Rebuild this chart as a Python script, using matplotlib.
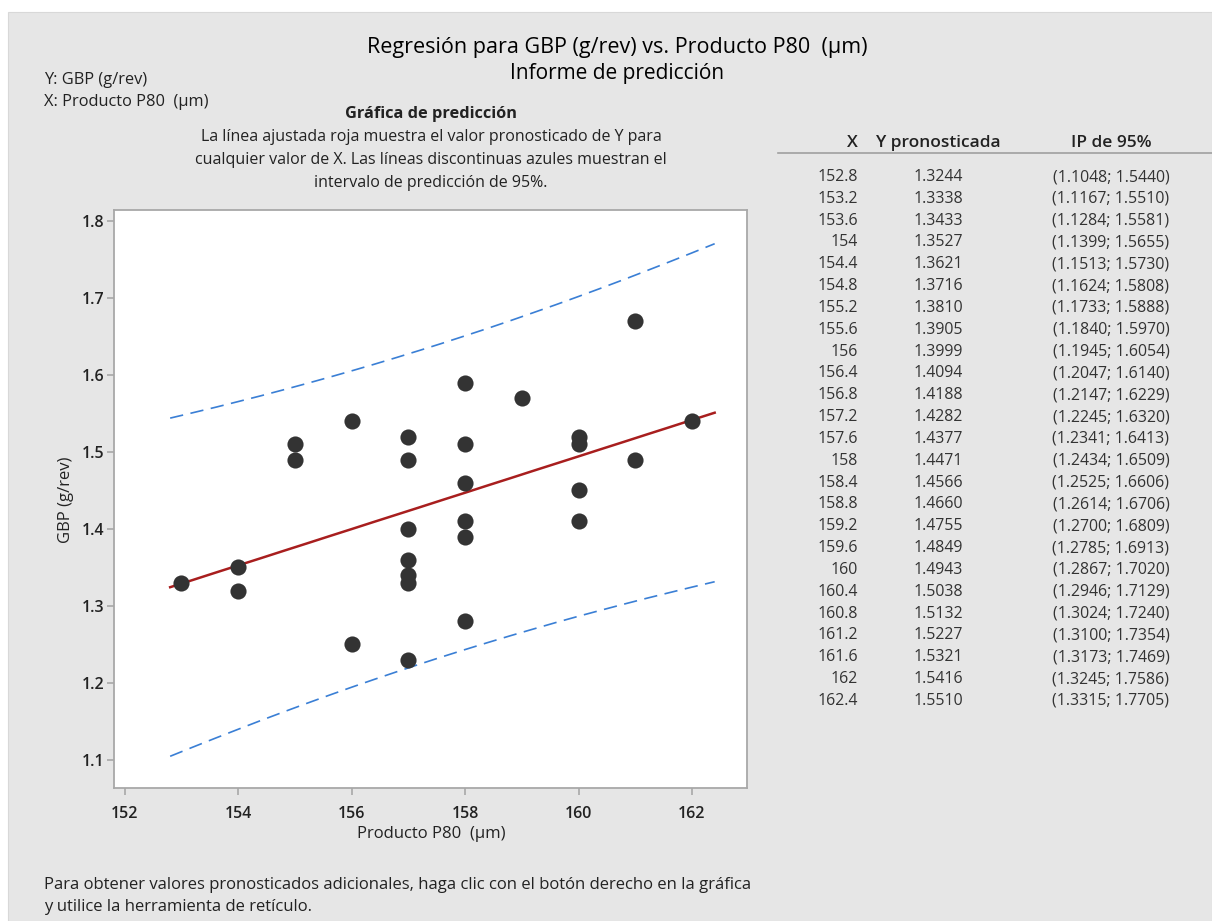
import matplotlib
matplotlib.use("Agg")
import matplotlib.pyplot as plt
from matplotlib.patches import Rectangle
from matplotlib.lines import Line2D

# ---------------- data ----------------
obs_x = [153, 154, 154, 155, 155, 156, 156,
         157, 157, 157, 157, 157, 157, 157,
         158, 158, 158, 158, 158, 158,
         159, 160, 160, 160, 160, 161, 161, 162]
obs_y = [1.33, 1.35, 1.32, 1.51, 1.49, 1.54, 1.25,
         1.52, 1.49, 1.40, 1.36, 1.34, 1.33, 1.23,
         1.59, 1.51, 1.46, 1.41, 1.39, 1.28,
         1.57, 1.52, 1.51, 1.45, 1.41, 1.67, 1.49, 1.54]

pred_x = [152.8, 153.2, 153.6, 154, 154.4, 154.8, 155.2, 155.6, 156, 156.4,
          156.8, 157.2, 157.6, 158, 158.4, 158.8, 159.2, 159.6, 160, 160.4,
          160.8, 161.2, 161.6, 162, 162.4]
pred_y = [1.3244, 1.3338, 1.3433, 1.3527, 1.3621, 1.3716, 1.3810, 1.3905, 1.3999, 1.4094,
          1.4188, 1.4282, 1.4377, 1.4471, 1.4566, 1.4660, 1.4755, 1.4849, 1.4943, 1.5038,
          1.5132, 1.5227, 1.5321, 1.5416, 1.5510]
pi_low = [1.1048, 1.1167, 1.1284, 1.1399, 1.1513, 1.1624, 1.1733, 1.1840, 1.1945, 1.2047,
          1.2147, 1.2245, 1.2341, 1.2434, 1.2525, 1.2614, 1.2700, 1.2785, 1.2867, 1.2946,
          1.3024, 1.3100, 1.3173, 1.3245, 1.3315]
pi_high = [1.5440, 1.5510, 1.5581, 1.5655, 1.5730, 1.5808, 1.5888, 1.5970, 1.6054, 1.6140,
           1.6229, 1.6320, 1.6413, 1.6509, 1.6606, 1.6706, 1.6809, 1.6913, 1.7020, 1.7129,
           1.7240, 1.7354, 1.7469, 1.7586, 1.7705]

x_ticks = [152, 154, 156, 158, 160, 162]
y_ticks = [1.1, 1.2, 1.3, 1.4, 1.5, 1.6, 1.7, 1.8]

title = "Regresión para GBP (g/rev) vs. Producto P80  (µm)"
subtitle = "Informe de predicción"
x_label = "Producto P80  (µm)"
y_label = "GBP (g/rev)"

# ---------------- figure ----------------
W, H = 1212, 921
plt.rcParams['font.family'] = ['Open Sans', 'DejaVu Sans']
fig = plt.figure(figsize=(W / 100, H / 100), dpi=100)
fig.patch.set_facecolor('white')

def fx(x):
    return x / W

def fy(y):
    return 1 - y / H

fig.patches.append(Rectangle((fx(8), 0), 1 - fx(8), fy(12), transform=fig.transFigure,
                             facecolor='#e6e6e6', edgecolor='#d8d8d8', lw=0.8, zorder=-10))

TXT = '#222222'

fig.text(fx(617), fy(47), title, ha='center', va='center', fontsize=15.5, color='black')
fig.text(fx(617), fy(73), subtitle, ha='center', va='center', fontsize=15, color='black')
fig.text(fx(44), fy(80), "Y: GBP (g/rev)", ha='left', va='center', fontsize=11.8, color=TXT)
fig.text(fx(44), fy(102), "X: Producto P80  (µm)", ha='left', va='center', fontsize=11.8, color=TXT)

fig.text(fx(431), fy(114), "Gráfica de predicción", ha='center', va='center', fontsize=11.8,
         fontweight='bold', color=TXT)
desc = ["La línea ajustada roja muestra el valor pronosticado de Y para",
        "cualquier valor de X. Las líneas discontinuas azules muestran el",
        "intervalo de predicción de 95%."]
for i, line in enumerate(desc):
    fig.text(fx(431), fy(137 + 23 * i), line, ha='center', va='center', fontsize=11.5, color=TXT)

fig.text(fx(44), fy(885), "Para obtener valores pronosticados adicionales, haga clic con el botón derecho en la gráfica",
         ha='left', va='center', fontsize=12, color=TXT)
fig.text(fx(44), fy(907), "y utilice la herramienta de retículo.",
         ha='left', va='center', fontsize=12, color=TXT)

# ---------------- table ----------------
fig.text(fx(858), fy(143), "X", ha='right', va='center', fontsize=12.5, fontweight='semibold', color=TXT)
fig.text(fx(938), fy(143), "Y pronosticada", ha='center', va='center', fontsize=12.5, fontweight='semibold', color=TXT)
fig.text(fx(1111), fy(143), "IP de 95%", ha='center', va='center', fontsize=12.5, fontweight='semibold', color=TXT)
fig.add_artist(Line2D([fx(778), fx(1212)], [fy(153), fy(153)], transform=fig.transFigure,
                      color='#a0a0a0', lw=1.2))
for i, (xv, yv, lo, hi) in enumerate(zip(pred_x, pred_y, pi_low, pi_high)):
    yy = fy(177 + 21.83 * i)
    fig.text(fx(858), yy, f"{xv:g}", ha='right', va='center', fontsize=11.4, color='#333333')
    fig.text(fx(938), yy, f"{yv:.4f}", ha='center', va='center', fontsize=11.4, color='#333333')
    fig.text(fx(1111), yy, f"({lo:.4f}; {hi:.4f})", ha='center', va='center', fontsize=11.4, color='#333333')

# ---------------- plot ----------------
ax = fig.add_axes([fx(114), fy(788), fx(747) - fx(114), fy(210) - fy(788)])
ax.set_facecolor('white')
ax.plot(pred_x, pi_high, color='#3a7fd5', lw=1.2, dashes=(8, 4.5))
ax.plot(pred_x, pi_low, color='#3a7fd5', lw=1.2, dashes=(8, 4.5))
ax.plot(pred_x, pred_y, color='#a81e1e', lw=1.8)
ax.scatter(obs_x, obs_y, s=135, color='#333333', zorder=5, linewidths=0)

ax.set_xlim(151.81, 162.97)
ax.set_ylim(1.0636, 1.8143)
ax.set_xticks(x_ticks)
ax.set_yticks(y_ticks)
ax.set_xticklabels([f"{t:g}" for t in x_ticks])
ax.set_yticklabels([f"{t:.1f}" for t in y_ticks])
for s in ax.spines.values():
    s.set_color('#a8a8a8')
    s.set_linewidth(1.3)
ax.tick_params(direction='out', length=5, width=1.2, color='#a8a8a8', labelsize=11.5,
               labelcolor=TXT)
ax.tick_params(axis='x', pad=8)
ax.tick_params(axis='y', pad=2)
for lab in ax.get_xticklabels() + ax.get_yticklabels():
    lab.set_fontweight('semibold')

fig.text(fx(431), fy(834), x_label, ha='center', va='center', fontsize=12, color=TXT)
fig.text(fx(66), fy(500), y_label, ha='center', va='center', fontsize=12, color=TXT, rotation=90)

fig.savefig("out.png", dpi=100, facecolor=fig.get_facecolor())
